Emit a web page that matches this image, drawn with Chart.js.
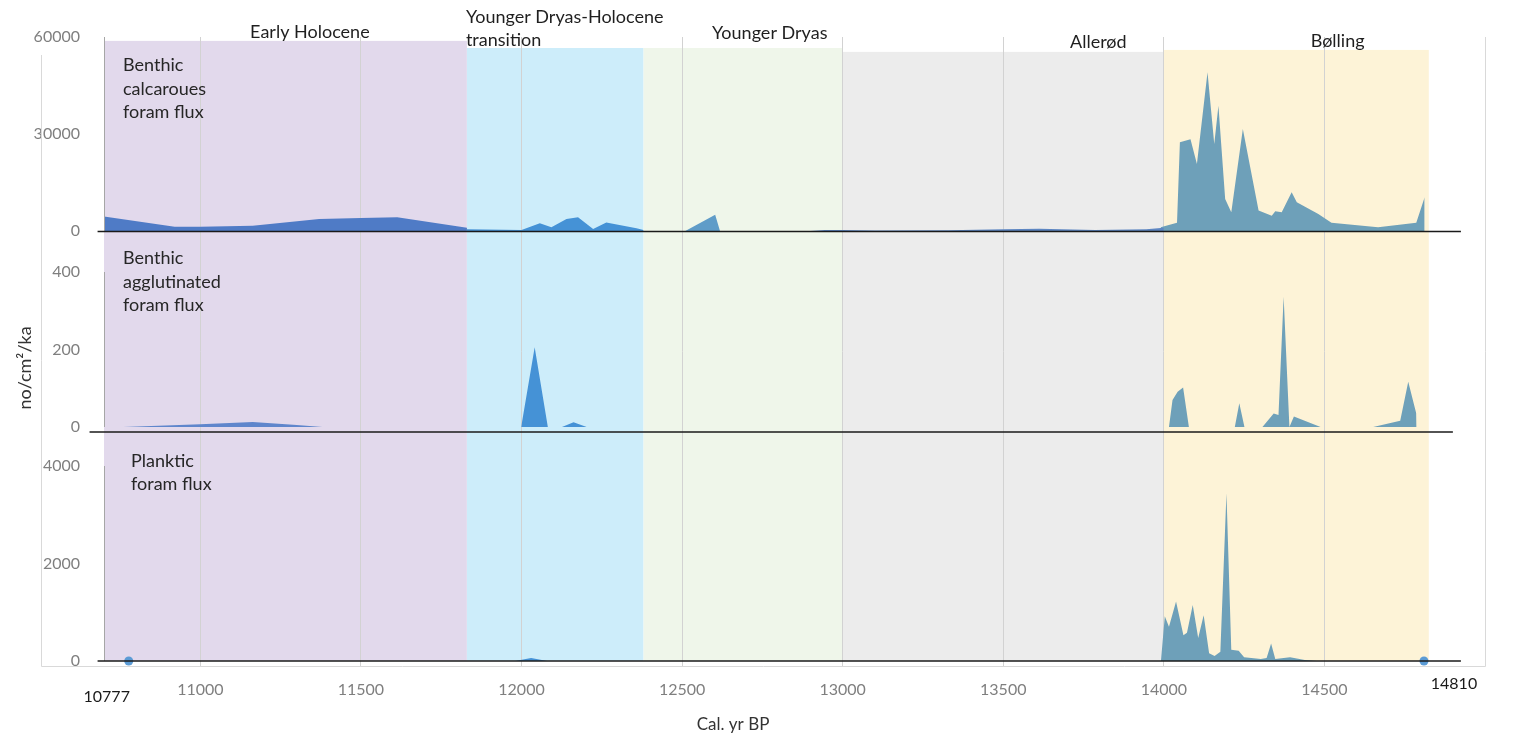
<!DOCTYPE html>
<html>
<head>
<meta charset="utf-8">
<title>Foram flux</title>
<script src="https://cdn.jsdelivr.net/npm/chart.js@4.4.1/dist/chart.umd.min.js"></script>
<style>
    html, body { margin: 0; padding: 0; background: #fff; }
    #wrap { width: 1526px; height: 737px; position: relative; }
</style>
</head>
<body>
<div id="wrap"><canvas id="chart-flux"></canvas></div>
<script>
// axis ticks
const xTickYears = [11000, 11500, 12000, 12500, 13000, 13500, 14000, 14500];
const calcTicks = [0, 30000, 60000];
const agglTicks = [0, 200, 400];
const plankTicks = [0, 2000, 4000];

// climate periods (cal. yr BP)
const periodNames = ['Early Holocene', 'Younger Dryas-Holocene transition', 'Younger Dryas', 'Allerød', 'Bølling'];
const periodStart = [10700, 11830, 12380, 13000, 14000];
const periodEnd = [11830, 12380, 13000, 14000, 14825];

// benthic calcareous foram flux
const calcHoloceneYears = [10700, 10920, 11000, 11163, 11370, 11500, 11613, 11830];
const calcHoloceneFlux = [4500, 1300, 1300, 1600, 3700, 4000, 4200, 1000];
const calcTransitionYears = [11830, 12000, 12057, 12093, 12140, 12176, 12223, 12264, 12358, 12380];
const calcTransitionFlux = [500, 300, 2400, 1150, 3700, 4200, 600, 2600, 830, 300];
const calcYoungerDryasYears = [12380, 12510, 12603, 12618, 12700];
const calcYoungerDryasFlux = [0, 0, 5000, 0, 0];
const calcAllerodYears = [12900, 12945, 13000, 13100, 13330, 13500, 13612, 13786, 13945, 14000];
const calcAllerodFlux = [0, 300, 300, 100, 200, 500, 700, 300, 500, 1000];
const calcBollingYears = [13990, 14041, 14050, 14083, 14103, 14136, 14157, 14170, 14191, 14210, 14246,
    14295, 14336, 14347, 14367, 14398, 14414, 14481, 14522, 14667, 14786, 14812];
const calcBollingFlux = [1100, 2500, 27400, 28400, 20700, 49100, 26900, 38700, 9900, 5800, 31500,
    6300, 4700, 6100, 5800, 12000, 8900, 5200, 2500, 1100, 2500, 10400];

// benthic agglutinated foram flux
const agglHoloceneYears = [10760, 11000, 11163, 11300, 11380];
const agglHoloceneFlux = [0, 7, 13, 5, 0];
const agglTransitionYears = [11999, 12041, 12082, 12126, 12162, 12203];
const agglTransitionFlux = [0, 206, 0, 0, 12, 0];
const agglBollingYears = [14016, 14027, 14043, 14060, 14078, 14221, 14235, 14251, 14307, 14342,
    14357, 14373, 14391, 14405, 14488, 14652, 14736, 14761, 14786, 14787];
const agglBollingFlux = [0, 70, 91, 102, 0, 0, 61, 0, 0, 35,
    31, 336, 0, 27, 0, 0, 16, 117, 35, 0];

// planktic foram flux
const plankTransitionYears = [11980, 12030, 12080];
const plankTransitionFlux = [0, 60, 0];
const plankBollingYears = [13991, 14003, 14016, 14038, 14061, 14072, 14090, 14107, 14124, 14141, 14158, 14176,
    14195, 14210, 14233, 14250, 14302, 14320, 14334, 14347, 14393, 14439, 14476];
const plankBollingFlux = [0, 920, 700, 1220, 530, 580, 1150, 470, 940, 160, 100, 190,
    3440, 230, 210, 75, 40, 60, 360, 40, 75, 20, 0];

// core top / bottom ages
const endpointYears = [10777, 14810];

const FONT = 'Lato, "Open Sans", sans-serif';

const bandStyles = [
    { color: '#e2d9ec', top: 58800 },
    { color: '#cdedfa', top: 56600 },
    { color: '#eff6ea', top: 56600 },
    { color: '#ececec', top: 55400 },
    { color: '#fdf3d7', top: 56000 }
];

function points(years, values) {
    return years.map((year, i) => ({ x: year, y: values[i] }));
}

function area(years, values, color, axis) {
    return {
        data: points(years, values),
        yAxisID: axis,
        backgroundColor: color,
        borderColor: color,
        borderWidth: 0,
        pointRadius: 0,
        tension: 0,
        fill: 'origin'
    };
}

function fixedTicks(values) {
    return axis => { axis.ticks = values.map(v => ({ value: v })); };
}

// plain numbers, no thousands separator
const plainLabel = value => String(value);

function panelAxis(ticks, min, max, weight, order) {
    return {
        type: 'linear',
        position: 'left',
        stack: 'panels',
        stackWeight: weight,
        weight: order,
        min: min,
        max: max,
        afterBuildTicks: fixedTicks(ticks),
        afterFit: axis => { axis.width = 84; },
        grid: { display: false },
        border: { display: false },
        ticks: { color: '#7f7f7f', padding: 16, callback: plainLabel, font: { family: FONT, size: 16 } }
    };
}

// period shading behind the grid
const periodBands = {
    id: 'periodBands',
    beforeDraw(chart) {
        const { ctx, scales } = chart;
        const x = scales.x, top = scales.yCalc, bottom = scales.yPlank;
        ctx.save();
        periodStart.forEach((start, i) => {
            const x0 = x.getPixelForValue(start);
            const x1 = x.getPixelForValue(periodEnd[i]);
            const y0 = top.getPixelForValue(bandStyles[i].top);
            const y1 = bottom.getPixelForValue(0);
            ctx.fillStyle = bandStyles[i].color;
            ctx.fillRect(x0, y0, x1 - x0, y1 - y0);
        });
        ctx.restore();
    }
};

// frame, zero lines and all the free text
const annotations = {
    id: 'annotations',
    afterDraw(chart) {
        const { ctx, scales, chartArea } = chart;
        const x = scales.x;
        ctx.save();

        // outer frame
        ctx.strokeStyle = '#d9d9d9';
        ctx.lineWidth = 1;
        ctx.beginPath();
        ctx.moveTo(41.5, 55);
        ctx.lineTo(41.5, chartArea.bottom + 0.5);
        ctx.lineTo(chartArea.right + 0.5, chartArea.bottom + 0.5);
        ctx.lineTo(chartArea.right + 0.5, chartArea.top);
        ctx.stroke();

        // short value axes per panel
        ctx.strokeStyle = '#a6a6a6';
        [['yCalc', calcTicks], ['yAggl', agglTicks], ['yPlank', plankTicks]].forEach(([id, ticks]) => {
            const s = scales[id];
            ctx.beginPath();
            ctx.moveTo(chartArea.left + 0.5, s.getPixelForValue(ticks[ticks.length - 1]));
            ctx.lineTo(chartArea.left + 0.5, s.getPixelForValue(0));
            ctx.stroke();
        });

        // zero lines
        ctx.strokeStyle = '#1a1a1a';
        ctx.lineWidth = 1.6;
        [
            { id: 'yCalc', from: 10680, to: 14925, shift: 0.5 },
            { id: 'yAggl', from: 10655, to: 14900, shift: 5 },
            { id: 'yPlank', from: 10680, to: 14925, shift: 0 }
        ].forEach(line => {
            const y = scales[line.id].getPixelForValue(0) + line.shift;
            ctx.beginPath();
            ctx.moveTo(x.getPixelForValue(line.from), y);
            ctx.lineTo(x.getPixelForValue(line.to), y);
            ctx.stroke();
        });

        // period names
        ctx.fillStyle = '#1f1f1f';
        ctx.font = '18px ' + FONT;
        ctx.textBaseline = 'middle';
        ctx.textAlign = 'center';
        ctx.fillText(periodNames[0], x.getPixelForValue(11341), 32);
        ctx.fillText(periodNames[2], x.getPixelForValue(12773), 33);
        ctx.fillText(periodNames[3], x.getPixelForValue(13796), 42);
        ctx.fillText(periodNames[4], x.getPixelForValue(14541), 41);
        ctx.textAlign = 'left';
        const trans = periodNames[1].split(' ');
        ctx.fillText(trans[0] + ' ' + trans[1], x.getPixelForValue(periodStart[1]) - 1, 17);
        ctx.fillText(trans[2], x.getPixelForValue(periodStart[1]) - 1, 40);

        // panel names
        ctx.fillStyle = '#262626';
        const left = chartArea.left;
        [['Benthic', 65], ['calcaroues', 89], ['foram flux', 112]].forEach(([t, y]) => ctx.fillText(t, left + 19, y));
        [['Benthic', 258], ['agglutinated', 282], ['foram flux', 305]].forEach(([t, y]) => ctx.fillText(t, left + 19, y));
        [['Planktic', 461], ['foram flux', 484]].forEach(([t, y]) => ctx.fillText(t, left + 27, y));

        // axis titles
        ctx.textAlign = 'center';
        ctx.fillStyle = '#333333';
        ctx.font = '17px ' + FONT;
        ctx.fillText('Cal. yr BP', 733, 725);
        ctx.save();
        ctx.translate(25, 368);
        ctx.rotate(-Math.PI / 2);
        ctx.font = '18px ' + FONT;
        ctx.fillText('no/cm\u00B2/ka', 0, 0);
        ctx.restore();

        // age labels for the end points
        ctx.fillStyle = '#1a1a1a';
        ctx.font = '16px ' + FONT;
        ctx.fillText(String(endpointYears[0]), x.getPixelForValue(endpointYears[0]) - 22, 697);
        ctx.fillText(String(endpointYears[1]), x.getPixelForValue(endpointYears[1]) + 30, 684);

        ctx.restore();
    }
};

const blueHolocene = '#4f7bc6';
const blueTransition = '#4592d6';
const steel = '#6ea0b9';

new Chart(document.getElementById('chart-flux'), {
    type: 'line',
    data: {
        datasets: [
            area(calcHoloceneYears, calcHoloceneFlux, blueHolocene, 'yCalc'),
            area(calcTransitionYears, calcTransitionFlux, blueTransition, 'yCalc'),
            area(calcYoungerDryasYears, calcYoungerDryasFlux, '#5f9cc8', 'yCalc'),
            area(calcAllerodYears, calcAllerodFlux, '#5d86c2', 'yCalc'),
            area(calcBollingYears, calcBollingFlux, steel, 'yCalc'),
            area(agglHoloceneYears, agglHoloceneFlux, '#5f86cc', 'yAggl'),
            area(agglTransitionYears, agglTransitionFlux, blueTransition, 'yAggl'),
            area(agglBollingYears, agglBollingFlux, steel, 'yAggl'),
            area(plankTransitionYears, plankTransitionFlux, blueTransition, 'yPlank'),
            area(plankBollingYears, plankBollingFlux, steel, 'yPlank'),
            {
                data: endpointYears.map(year => ({ x: year, y: 0 })),
                yAxisID: 'yPlank',
                showLine: false,
                pointRadius: 4.5,
                pointBackgroundColor: '#5b9bd5',
                pointBorderWidth: 0,
                clip: false
            }
        ]
    },
    options: {
        responsive: true,
        maintainAspectRatio: false,
        animation: false,
        layout: { padding: { top: 37, left: 20, right: 41, bottom: 0 } },
        plugins: {
            legend: { display: false },
            tooltip: { enabled: false }
        },
        scales: {
            x: {
                type: 'linear',
                min: 10700,
                max: 15000,
                afterBuildTicks: fixedTicks(xTickYears),
                afterFit: axis => { axis.height = 71; },
                grid: { color: '#d2d2d2', lineWidth: 1, drawTicks: false },
                border: { display: false },
                ticks: { color: '#7f7f7f', padding: 14, callback: plainLabel, font: { family: FONT, size: 16 } }
            },
            yCalc: panelAxis(calcTicks, -5900, 60000, 213, 3),
            yAggl: panelAxis(agglTicks, -49, 456.8, 196, 2),
            yPlank: panelAxis(plankTicks, -103, 4410, 220, 1)
        }
    },
    plugins: [periodBands, annotations]
});
</script>
</body>
</html>
